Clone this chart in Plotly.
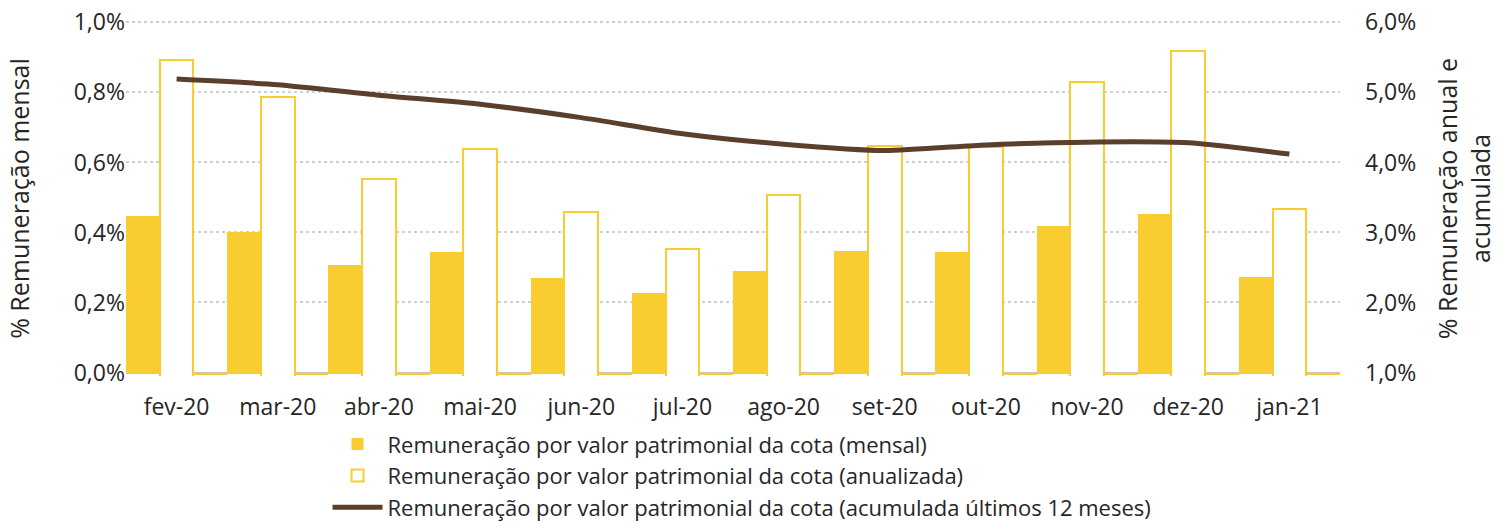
import plotly.graph_objects as go

categories = ["fev-20", "mar-20", "abr-20", "mai-20", "jun-20", "jul-20",
              "ago-20", "set-20", "out-20", "nov-20", "dez-20", "jan-21"]
mensal = [0.446, 0.400, 0.306, 0.343, 0.271, 0.226, 0.289, 0.346, 0.343, 0.419, 0.453, 0.272]
anualizada = [5.46, 4.93, 3.76, 4.19, 3.29, 2.76, 3.53, 4.23, 4.22, 5.15, 5.59, 3.33]
acumulada = [5.19, 5.11, 4.96, 4.83, 4.64, 4.41, 4.26, 4.17, 4.25, 4.29, 4.28, 4.12]
marcador = [-0.008, -0.008, -0.008, -0.008, -0.008, -0.008,
            -0.008, -0.008, -0.008, -0.008, -0.008, -0.008]

left_ticks = [0.0, 0.2, 0.4, 0.6, 0.8, 1.0]
left_labels = ["0,0%", "0,2%", "0,4%", "0,6%", "0,8%", "1,0%"]
right_ticks = [1.0, 2.0, 3.0, 4.0, 5.0, 6.0]
right_labels = ["1,0%", "2,0%", "3,0%", "4,0%", "5,0%", "6,0%"]

GOLD = "#F9CC30"
BROWN = "#5C3F2A"
TEXT = "#262626"
FONT = "Open Sans"

fig = go.Figure()
fig.add_trace(go.Bar(
    x=categories, y=mensal, yaxis="y", offsetgroup="1",
    name="Remuneração por valor patrimonial da cota (mensal)",
    marker=dict(color=GOLD, line=dict(width=0)),
))
fig.add_trace(go.Bar(
    x=categories, y=anualizada, yaxis="y2", offsetgroup="2",
    name="Remuneração por valor patrimonial da cota (anualizada)",
    marker=dict(color="white", line=dict(color=GOLD, width=2)),
))
fig.add_trace(go.Bar(
    x=categories, y=marcador, yaxis="y", offsetgroup="3",
    showlegend=False, hoverinfo="skip",
    marker=dict(color=GOLD, line=dict(width=0)),
))
fig.add_trace(go.Scatter(
    x=categories, y=acumulada, yaxis="y2", mode="lines",
    name="Remuneração por valor patrimonial da cota (acumulada últimos 12 meses)",
    line=dict(color=BROWN, width=5, shape="spline", smoothing=0.6),
))

fig.update_layout(
    width=1503, height=522,
    margin=dict(l=126, r=163, t=21, b=146, autoexpand=False),
    paper_bgcolor="white", plot_bgcolor="white",
    separators=",.",
    barmode="group", bargap=0, bargroupgap=0,
    font=dict(family=FONT, size=21, color=TEXT),
    xaxis=dict(
        showline=False, showgrid=False, ticks="", automargin=False,
        tickfont=dict(size=23, color=TEXT),
        ticklabelstandoff=15,
        range=[-0.5, 11.5],
    ),
    yaxis=dict(
        range=[-0.01, 1.004], tickmode="array", tickvals=left_ticks, ticktext=left_labels,
        showgrid=True, gridcolor="#D0D0D0", griddash="dot", gridwidth=1.5,
        zeroline=True, zerolinecolor="#C9C5BE", zerolinewidth=2,
        showline=False, ticks="", automargin=False, ticklabeloverflow="allow",
        tickfont=dict(size=23, color=TEXT),
        title=dict(text="% Remuneração mensal", font=dict(size=25, color=TEXT), standoff=36),
    ),
    yaxis2=dict(
        overlaying="y", side="right",
        range=[0.95, 6.02], tickmode="array", tickvals=right_ticks, ticktext=right_labels,
        showgrid=False, zeroline=False, showline=False, ticks="", automargin=False,
        ticklabeloverflow="allow",
        tickfont=dict(size=23, color=TEXT),
        ticklabelstandoff=24,
        title=dict(text="% Remuneração anual e<br>acumulada", font=dict(size=25, color=TEXT), standoff=24),
    ),
    legend=dict(
        x=0.166, y=-0.133, xanchor="left", yanchor="top",
        font=dict(size=22, color=TEXT),
        tracegroupgap=0, itemwidth=50,
        bgcolor="rgba(0,0,0,0)",
    ),
)

fig.write_html("out.html", config={"displayModeBar": False},
               post_script="document.body.style.margin='0';")
